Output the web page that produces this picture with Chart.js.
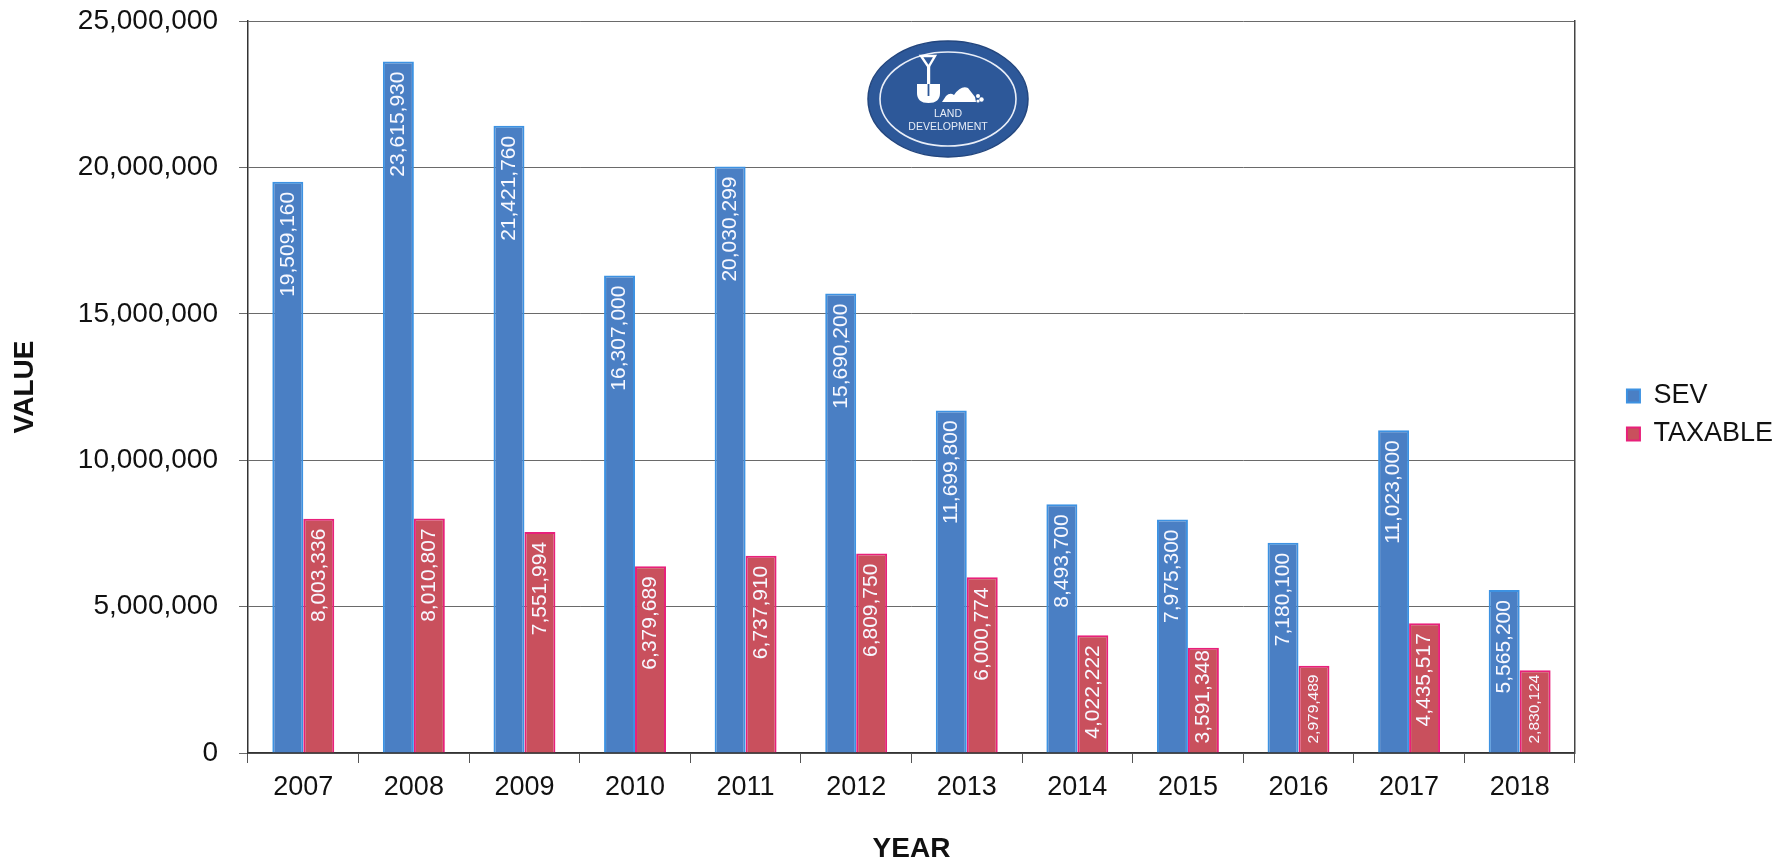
<!DOCTYPE html>
<html>
<head>
<meta charset="utf-8">
<script src="https://cdn.jsdelivr.net/npm/chart.js@4.4.1/dist/chart.umd.min.js"></script>
<style>
  html, body { margin: 0; padding: 0; background: #ffffff; }
  #wrap { width: 1792px; height: 866px; position: relative; }
</style>
</head>
<body>
<div id="wrap"><canvas id="c"></canvas></div>
<script>
const years = ['2007','2008','2009','2010','2011','2012','2013','2014','2015','2016','2017','2018'];
const sevValues = [19509160, 23615930, 21421760, 16307000, 20030299, 15690200, 11699800, 8493700, 7975300, 7180100, 11023000, 5565200];
const taxableValues = [8003336, 8010807, 7551994, 6379689, 6737910, 6809750, 6000774, 4022222, 3591348, 2979489, 4435517, 2830124];
const seriesNames = ['SEV', 'TAXABLE'];
const yMax = 25000000;
const yStep = 5000000;

const FONT = '"Liberation Sans", Arial, Helvetica, sans-serif';
Chart.defaults.font.family = FONT;
Chart.defaults.color = '#111111';

const barLabels = {
  id: 'barLabels',
  afterDatasetsDraw(chart) {
    const ctx = chart.ctx;
    chart.data.datasets.forEach((ds, di) => {
      const meta = chart.getDatasetMeta(di);
      meta.data.forEach((bar, i) => {
        const text = ds.data[i].toLocaleString('en-US');
        const h = bar.base - bar.y;
        let size = 21;
        ctx.font = size + 'px ' + FONT;
        let w = ctx.measureText(text).width;
        if (w > h) {
          size = 15.5;
          ctx.font = size + 'px ' + FONT;
          w = ctx.measureText(text).width;
        }
        let top = bar.y + 10;
        if (top + w > bar.base - 9) top = Math.max(bar.y + 1, bar.base - 9 - w);
        ctx.save();
        ctx.translate(bar.x, top);
        ctx.rotate(-Math.PI / 2);
        ctx.textAlign = 'right';
        ctx.textBaseline = 'middle';
        ctx.fillStyle = '#f7f8ff';
        ctx.fillText(text, 0, 0);
        ctx.restore();
      });
    });
  }
};

const logo = {
  id: 'logo',
  afterDraw(chart) {
    const ctx = chart.ctx;
    const cx = 948, cy = 99, rx = 80, ry = 58;
    ctx.save();
    ctx.beginPath();
    ctx.ellipse(cx, cy, rx, ry, 0, 0, Math.PI * 2);
    ctx.fillStyle = '#2d5899';
    ctx.fill();
    ctx.lineWidth = 1.5;
    ctx.strokeStyle = '#23467e';
    ctx.stroke();
    ctx.beginPath();
    ctx.ellipse(cx, cy, rx - 12, ry - 11, 0, 0, Math.PI * 2);
    ctx.lineWidth = 1.6;
    ctx.strokeStyle = '#e9eef8';
    ctx.stroke();
    // shovel grip
    ctx.strokeStyle = '#ffffff';
    ctx.fillStyle = '#ffffff';
    ctx.lineWidth = 2.4;
    ctx.beginPath();
    ctx.moveTo(921, 56);
    ctx.lineTo(935, 56);
    ctx.lineTo(928.5, 67);
    ctx.closePath();
    ctx.stroke();
    ctx.fillRect(927, 66, 3.2, 18);
    // blade
    ctx.beginPath();
    ctx.moveTo(917, 84);
    ctx.lineTo(940, 84);
    ctx.lineTo(940, 93);
    ctx.quadraticCurveTo(940, 103, 928.5, 103);
    ctx.quadraticCurveTo(917, 103, 917, 93);
    ctx.closePath();
    ctx.fill();
    ctx.fillStyle = '#2d5899';
    ctx.fillRect(927.6, 84, 1.8, 12);
    // mound
    ctx.fillStyle = '#ffffff';
    ctx.beginPath();
    ctx.moveTo(942, 102);
    ctx.lineTo(946, 96);
    ctx.quadraticCurveTo(950, 92, 954, 95);
    ctx.quadraticCurveTo(961, 85, 968, 88);
    ctx.lineTo(975, 97);
    ctx.lineTo(976, 102);
    ctx.closePath();
    ctx.fill();
    ctx.beginPath(); ctx.arc(978, 96, 2, 0, Math.PI * 2); ctx.fill();
    ctx.beginPath(); ctx.arc(981.5, 99.5, 2.2, 0, Math.PI * 2); ctx.fill();
    ctx.beginPath(); ctx.arc(978, 101, 1.6, 0, Math.PI * 2); ctx.fill();
    // text
    ctx.fillStyle = '#e6ecf7';
    ctx.textAlign = 'center';
    ctx.textBaseline = 'middle';
    ctx.font = '10.5px ' + FONT;
    ctx.fillText('LAND', 948, 114);
    ctx.font = '10.5px ' + FONT;
    ctx.fillText('DEVELOPMENT', 948, 127);
    ctx.restore();
  }
};

new Chart(document.getElementById('c'), {
  type: 'bar',
  data: {
    labels: years,
    datasets: [
      {
        label: seriesNames[0],
        data: sevValues,
        backgroundColor: '#4a7fc4',
        borderColor: '#3d92e2',
        borderWidth: 2
      },
      {
        label: seriesNames[1],
        data: taxableValues,
        backgroundColor: '#c9505d',
        borderColor: '#e8207a',
        borderWidth: 2
      }
    ]
  },
  plugins: [barLabels, logo],
  options: {
    responsive: true,
    maintainAspectRatio: false,
    animation: false,
    layout: { padding: { top: 21, right: 9, bottom: 0, left: 0 } },
    datasets: { bar: { categoryPercentage: 0.56, barPercentage: 1 } },
    plugins: {
      tooltip: { enabled: false },
      legend: {
        position: 'right',
        fullSize: false,
        labels: {
          boxWidth: 13,
          boxHeight: 13,
          padding: 11,
          color: '#111111',
          font: { size: 27 }
        },
        title: { display: true, text: ' ', padding: { top: 0, bottom: 41.6 }, font: { size: 12 } }
      }
    },
    scales: {
      x: {
        grid: { display: true, drawOnChartArea: false, drawTicks: true, tickLength: 10, color: '#555555', offset: true },
        border: { display: true, color: '#333333', width: 1.5 },
        ticks: { padding: 8, color: '#111111', font: { size: 27 } },
        title: { display: true, text: 'YEAR', color: '#111111', font: { size: 28, weight: 'bold' }, padding: { top: 0, bottom: 0 } },
        afterFit: (s) => { s.height = 113; }
      },
      y: {
        min: 0,
        max: yMax,
        ticks: { stepSize: yStep, padding: 21, color: '#111111', font: { size: 28 }, callback: (v) => Number(v).toLocaleString('en-US') },
        grid: { color: '#6a6a6a', tickLength: 9 },
        border: { display: true, color: '#333333', width: 1.5 },
        title: { display: true, text: 'VALUE', color: '#111111', font: { size: 28, weight: 'bold' }, padding: { top: 8, bottom: 0 } },
        afterFit: (s) => { s.width = 248; s.paddingTop = 17; s.paddingBottom = 17; }
      },
      y2: {
        position: 'right',
        min: 0,
        max: yMax,
        grid: { display: false },
        ticks: { display: false },
        border: { display: true, color: '#444444', width: 1.5 },
        afterFit: (s) => { s.width = 41; }
      }
    }
  }
});
</script>
</body>
</html>
